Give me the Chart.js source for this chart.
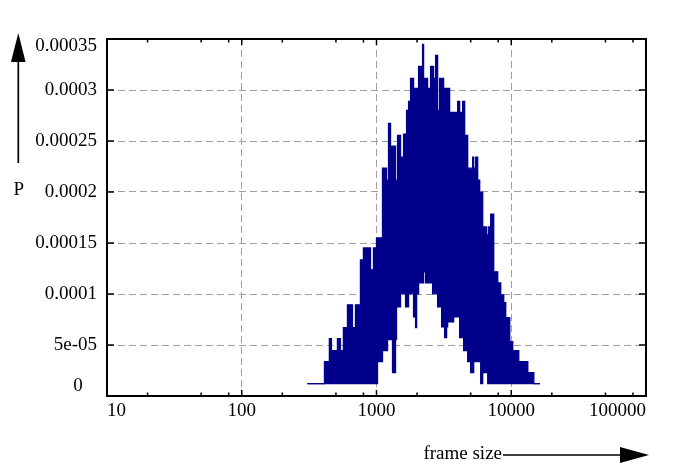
<!DOCTYPE html>
<html>
<head>
<meta charset="utf-8">
<script src="https://cdn.jsdelivr.net/npm/chart.js@4.4.1/dist/chart.umd.min.js"></script>
<style>
html,body{margin:0;padding:0;background:#fff;}
canvas{display:block;}
</style>
</head>
<body>
<canvas id="c" width="697" height="472"></canvas>
<script>
// ---- data (frame size in bytes, probability P) ----
const frameSizes = [307,411,447,463,471,513,540,568,609,663,
  698,760,800,903,950,1000,1017,1108,1187,1207,
  1228,1271,1315,1384,1408,1433,1508,1588,1643,1672,
  1730,1790,1884,1950,1984,2053,2198,2236,2314,2394,
  2520,2608,2653,2746,2842,2941,3043,3149,3203,3314,
  3372,3489,3737,4001,4141,4359,4435,4511,4749,5000,
  5174,5263,5446,5636,5833,5934,6140,6575,6689,6804,
  7041,7412,7937,8355,8795,9100,9746,10260,11370,13270,
  14710,16290];

// upper edge of the noisy curve
const upperP = [1.22e-5,3.37e-5,5.62e-5,3.37e-5,4.45e-5,5.62e-5,4.45e-5,6.70e-5,8.94e-5,6.70e-5,
  8.94e-5,1.334e-4,1.452e-4,1.237e-4,1.452e-4,1.549e-4,1.549e-4,2.234e-4,2.116e-4,2.116e-4,
  2.673e-4,2.449e-4,2.449e-4,2.116e-4,2.116e-4,2.556e-4,2.341e-4,2.566e-4,2.566e-4,2.801e-4,
  2.889e-4,3.113e-4,3.016e-4,3.016e-4,3.016e-4,3.231e-4,3.446e-4,3.113e-4,3.113e-4,3.016e-4,
  3.231e-4,3.231e-4,3.113e-4,3.338e-4,2.801e-4,3.113e-4,3.113e-4,3.016e-4,3.016e-4,3.016e-4,
  3.016e-4,2.781e-4,2.781e-4,2.889e-4,2.781e-4,2.889e-4,2.889e-4,2.556e-4,2.234e-4,2.234e-4,
  2.341e-4,2.234e-4,2.341e-4,2.116e-4,1.999e-4,1.999e-4,1.657e-4,1.579e-4,1.579e-4,1.657e-4,
  1.784e-4,1.217e-4,1.109e-4,9.92e-5,9.14e-5,7.67e-5,5.33e-5,4.45e-5,3.37e-5,2.30e-5,
  1.22e-5,1.22e-5];

// lower edge of the noisy curve
const lowerP = [1.22e-5,1.22e-5,1.22e-5,1.22e-5,1.22e-5,1.22e-5,1.22e-5,1.22e-5,1.22e-5,1.22e-5,
  1.22e-5,1.22e-5,1.22e-5,1.22e-5,1.22e-5,1.22e-5,3.37e-5,4.45e-5,4.45e-5,5.52e-5,
  5.52e-5,5.52e-5,2.30e-5,5.52e-5,8.75e-5,8.75e-5,1.002e-4,1.002e-4,8.75e-5,8.75e-5,
  1.002e-4,1.002e-4,7.77e-5,6.70e-5,1.002e-4,1.109e-4,1.109e-4,1.217e-4,1.109e-4,1.109e-4,
  1.109e-4,1.002e-4,1.002e-4,1.002e-4,8.75e-5,8.75e-5,6.79e-5,7.77e-5,5.72e-5,6.79e-5,
  7.28e-5,7.28e-5,7.77e-5,7.77e-5,5.72e-5,5.72e-5,4.45e-5,4.45e-5,3.37e-5,2.30e-5,
  2.30e-5,3.37e-5,3.37e-5,3.37e-5,3.37e-5,1.22e-5,2.30e-5,2.30e-5,1.22e-5,1.22e-5,
  1.22e-5,1.22e-5,1.22e-5,1.22e-5,1.22e-5,1.22e-5,1.22e-5,1.22e-5,1.22e-5,1.22e-5,
  1.22e-5,1.22e-5];

const xTickValues = [10,20,50,80,100,200,500,800,1000,2000,5000,8000,10000,20000,50000,80000,100000];
const xTickLabels = ['10','','','','100','','','','1000','','','','10000','','','','100000'];
const yTickValues = [0,5e-5,1e-4,1.5e-4,2e-4,2.5e-4,3e-4,3.5e-4];
const yTickLabels = ['0','5e-05','0.0001','0.00015','0.0002','0.00025','0.0003','0.00035'];
const xAxisTitle = 'frame size';
const yAxisTitle = 'P';

// ---- rendering ----
const FONT = "'Liberation Serif', 'Times New Roman', Times, serif";
const BLUE = '#00008b';
const GRID = '#a0a0a0';
const isMajorX = v => Math.abs(Math.log10(v) - Math.round(Math.log10(v))) < 1e-9;

const upperData = frameSizes.map((x, i) => ({x: x, y: upperP[i]}));
const lowerData = frameSizes.map((x, i) => ({x: x, y: lowerP[i]}));

const framePlugin = {
  id: 'gnuFrame',
  afterDatasetsDraw(chart) {
    const {ctx, chartArea: a, scales} = chart;
    const xs = scales.x, ys = scales.y;
    ctx.save();
    ctx.strokeStyle = '#000';
    ctx.lineWidth = 1.5;
    ctx.beginPath();
    xTickValues.forEach(v => {
      const px = xs.getPixelForValue(v);
      const len = isMajorX(v) ? 6 : 3.5;
      ctx.moveTo(px, a.bottom); ctx.lineTo(px, a.bottom - len);
      ctx.moveTo(px, a.top); ctx.lineTo(px, a.top + len);
    });
    yTickValues.forEach(v => {
      const py = ys.getPixelForValue(v);
      ctx.moveTo(a.left, py); ctx.lineTo(a.left + 7, py);
      ctx.moveTo(a.right, py); ctx.lineTo(a.right - 7, py);
    });
    ctx.stroke();
    ctx.lineWidth = 2;
    ctx.strokeRect(a.left, a.top, a.right - a.left, a.bottom - a.top);

    // y-axis label with upward arrow
    ctx.fillStyle = '#000';
    ctx.font = '19px ' + FONT;
    ctx.textAlign = 'center';
    ctx.textBaseline = 'alphabetic';
    ctx.fillText(yAxisTitle, 18.7, 195);
    ctx.lineWidth = 1.7;
    ctx.beginPath();
    ctx.moveTo(18.3, 163); ctx.lineTo(18.3, 58);
    ctx.stroke();
    ctx.beginPath();
    ctx.moveTo(18.3, 33); ctx.lineTo(11, 62); ctx.lineTo(25.6, 62); ctx.closePath();
    ctx.fill();

    // x-axis label with rightward arrow
    ctx.textAlign = 'right';
    ctx.fillText(xAxisTitle, 502, 458.5);
    ctx.beginPath();
    ctx.moveTo(503, 455); ctx.lineTo(624, 455);
    ctx.stroke();
    ctx.beginPath();
    ctx.moveTo(649, 455); ctx.lineTo(620, 447); ctx.lineTo(620, 463); ctx.closePath();
    ctx.fill();
    ctx.restore();
  }
};

new Chart(document.getElementById('c'), {
  type: 'line',
  data: {
    datasets: [
      {
        label: 'P upper',
        data: upperData,
        borderColor: BLUE,
        backgroundColor: BLUE,
        borderWidth: 1.3,
        pointRadius: 0,
        stepped: true,
        tension: 0,
        fill: '+1'
      },
      {
        label: 'P lower',
        data: lowerData,
        borderColor: BLUE,
        backgroundColor: BLUE,
        borderWidth: 1.3,
        pointRadius: 0,
        stepped: true,
        tension: 0,
        fill: false
      }
    ]
  },
  options: {
    responsive: false,
    animation: false,
    events: [],
    layout: { padding: { left: 0, top: 39, right: 51, bottom: 40 } },
    plugins: { legend: { display: false }, tooltip: { enabled: false } },
    scales: {
      x: {
        type: 'logarithmic',
        min: 10,
        max: 100000,
        afterFit: s => { s.height = 36; },
        afterBuildTicks: s => { s.ticks = xTickValues.map(v => ({value: v})); },
        grid: {
          drawTicks: false,
          lineWidth: 1,
          color: c => (c.tick && isMajorX(c.tick.value)) ? GRID : 'rgba(0,0,0,0)'
        },
        border: { display: false, dash: [7, 4] },
        ticks: {
          autoSkip: false,
          maxRotation: 0,
          minRotation: 0,
          align: 'inner',
          padding: 4,
          color: '#000',
          font: { family: FONT, size: 19 },
          callback: (v, i) => xTickLabels[i]
        }
      },
      y: {
        type: 'linear',
        min: 0,
        max: 3.5e-4,
        afterFit: s => { s.width = 107; },
        afterBuildTicks: s => { s.ticks = yTickValues.map(v => ({value: v})); },
        grid: { drawTicks: false, lineWidth: 1, color: GRID },
        border: { display: false, dash: [7, 4] },
        ticks: {
          padding: 10,
          color: '#000',
          font: c => ({
            family: FONT,
            size: 19,
            lineHeight: c.index === 0 ? '20px' : (c.index === yTickValues.length - 1 ? '15px' : 1.2)
          }),
          callback: (v, i) => {
            const t = yTickLabels[i];
            if (i === 0) return [t + '   ', ''];
            if (i === yTickLabels.length - 1) return ['', t];
            return t;
          }
        }
      }
    }
  },
  plugins: [framePlugin]
});
</script>
</body>
</html>
